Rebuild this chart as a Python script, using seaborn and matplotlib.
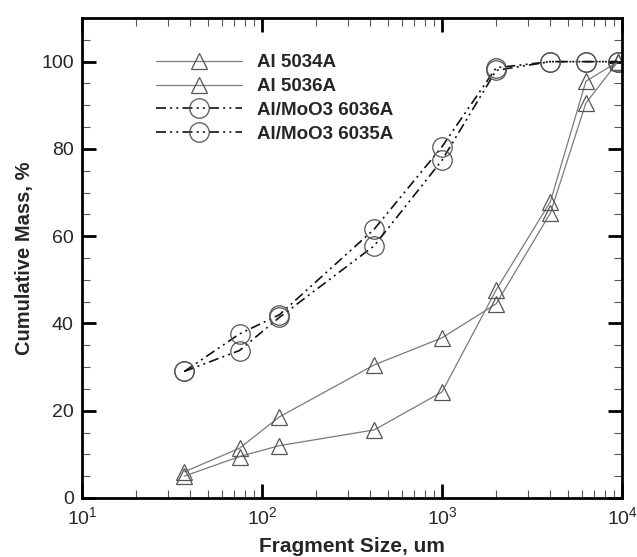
import matplotlib
matplotlib.use("Agg")
import matplotlib.pyplot as plt
import matplotlib.ticker as mticker
import seaborn as sns
import pandas as pd

sns.set_style("ticks")
plt.rcParams["font.family"] = ["Liberation Sans", "DejaVu Sans"]
plt.rcParams["mathtext.fontset"] = "custom"
plt.rcParams["mathtext.rm"] = "Liberation Sans"

# Sieve sizes (um) and cumulative mass (%) per sample
size_al = [37, 75, 125, 420, 1000, 2000, 4000, 6300, 9500]
al_5034a = [6.0, 11.4, 18.6, 30.5, 36.7, 44.5, 65.3, 90.5, 100.0]
al_5036a = [5.0, 9.5, 12.0, 15.6, 24.3, 47.7, 67.9, 95.5, 100.0]

size_moo3 = [37, 75, 125, 420, 1000, 2000, 4000, 6300, 9500]
moo3_6036a = [29.0, 37.6, 42.0, 61.6, 80.5, 98.6, 100.0, 100.0, 100.0]
moo3_6035a = [29.0, 33.8, 41.4, 57.8, 77.4, 98.0, 100.0, 100.0, 100.0]

series = [
    ("Al 5034A", size_al, al_5034a),
    ("Al 5036A", size_al, al_5036a),
    ("Al/MoO3 6036A", size_moo3, moo3_6036a),
    ("Al/MoO3 6035A", size_moo3, moo3_6035a),
]
df = pd.concat(
    [pd.DataFrame({"size": x, "mass": y, "sample": name}) for name, x, y in series],
    ignore_index=True,
)

fig = plt.figure(figsize=(6.37, 5.57), dpi=100)
ax = fig.add_axes([82 / 637, 1 - 498 / 557, 540 / 637, 480 / 557])

dashdot = (6, 2.5, 1.2, 2.5, 1.2, 2.5)
styles = {
    "Al 5034A": dict(color="#7a7a7a", lw=0.9, marker="^", ms=12, dashes=None),
    "Al 5036A": dict(color="#7a7a7a", lw=0.9, marker="^", ms=12, dashes=None),
    "Al/MoO3 6036A": dict(color="#111111", lw=1.2, marker="o", ms=14, dashes=dashdot),
    "Al/MoO3 6035A": dict(color="#111111", lw=1.2, marker="o", ms=14, dashes=dashdot),
}

for name, _, _ in series:
    st = styles[name]
    sub = df[df["sample"] == name]
    kw = dict(
        data=sub, x="size", y="mass", ax=ax, label=name,
        color=st["color"], lw=st["lw"], marker=st["marker"], markersize=st["ms"],
        markerfacecolor="none", markeredgecolor="#555555", markeredgewidth=0.9,
        estimator=None, sort=False,
    )
    line = sns.lineplot(**kw).lines[-1]
    if st["dashes"]:
        line.set_dashes(st["dashes"])

ax.set_xscale("log")
ax.set_xlim(10, 1e4)
ax.set_ylim(0, 110)
ax.set_yticks([0, 20, 40, 60, 80, 100])
ax.yaxis.set_minor_locator(mticker.MultipleLocator(5))
ax.xaxis.set_major_locator(mticker.LogLocator(base=10, numticks=10))
ax.xaxis.set_minor_locator(mticker.LogLocator(base=10, subs=range(2, 10), numticks=20))
ax.xaxis.set_major_formatter(mticker.LogFormatterMathtext())

for s in ax.spines.values():
    s.set_visible(True)
    s.set_linewidth(2.0)
    s.set_color("black")
ax.tick_params(which="both", direction="in", top=True, right=True, color="black")
ax.tick_params(which="major", length=10, width=2.0, labelsize=14, pad=6)
ax.tick_params(which="minor", length=6, width=0.8, color="#555555")

ax.set_xlabel("Fragment Size, um", fontsize=15, fontweight="bold", labelpad=6)
ax.set_ylabel("Cumulative Mass, %", fontsize=14.5, fontweight="bold", labelpad=5)

leg = ax.legend(
    loc="upper left", bbox_to_anchor=(0.105, 0.96), frameon=False,
    fontsize=13.5, handlelength=4.6, handletextpad=0.8, labelspacing=0.36,
    numpoints=1,
)
for t in leg.get_texts():
    t.set_fontweight("bold")

fig.savefig("out.png", dpi=100)
